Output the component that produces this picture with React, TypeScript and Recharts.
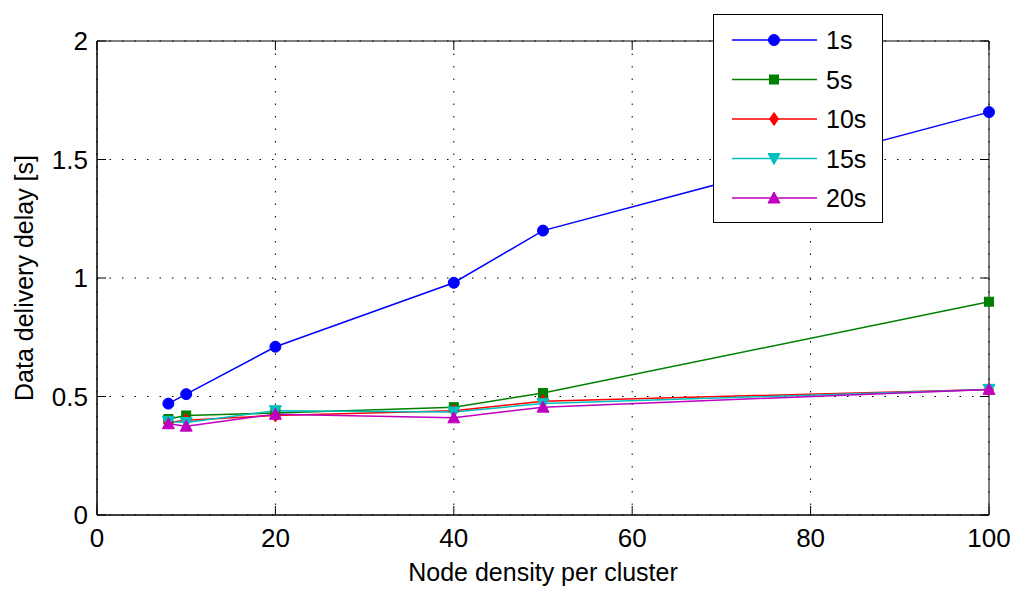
import React from "react";
import {
  LineChart, Line, XAxis, YAxis, CartesianGrid, ReferenceArea,
} from "recharts";

// x values (node density) and the delay for each beacon interval
const nodeDensity = [8, 10, 20, 40, 50, 100];
const delay1s = [0.47, 0.51, 0.71, 0.98, 1.2, 1.7];
const delay5s = [0.405, 0.42, 0.43, 0.455, 0.515, 0.9];
const delay10s = [0.39, 0.4, 0.42, 0.44, 0.48, 0.53];
const delay15s = [0.395, 0.39, 0.44, 0.435, 0.47, 0.53];
const delay20s = [0.385, 0.375, 0.425, 0.41, 0.455, 0.53];

const xTicks = [0, 20, 40, 60, 80, 100];
const yTicks = [0, 0.5, 1, 1.5, 2];

const seriesNames = ["1s", "5s", "10s", "15s", "20s"];
const seriesColors = ["#0000ff", "#008000", "#ff0000", "#00bfbf", "#bf00bf"];
const seriesShapes = ["circle", "square", "diamond", "down", "up"];
const seriesValues = [delay1s, delay5s, delay10s, delay15s, delay20s];

const rows = nodeDensity.map((x, i) => {
  const r: Record<string, number> = { x };
  seriesNames.forEach((n, k) => { r[n] = seriesValues[k][i]; });
  return r;
});

const FONT = "'Liberation Sans', Arial, sans-serif";

function Marker({ shape, cx, cy, color }: { shape: string; cx: number; cy: number; color: string }) {
  if (shape === "circle") return <circle cx={cx} cy={cy} r={5.5} fill={color} stroke={color} />;
  if (shape === "square") return <rect x={cx - 4.5} y={cy - 4.5} width={9} height={9} fill={color} stroke={color} />;
  if (shape === "diamond")
    return <polygon points={`${cx},${cy - 6.5} ${cx + 4.5},${cy} ${cx},${cy + 6.5} ${cx - 4.5},${cy}`} fill={color} stroke={color} />;
  if (shape === "down")
    return <polygon points={`${cx - 6},${cy - 5} ${cx + 6},${cy - 5} ${cx},${cy + 6}`} fill={color} stroke={color} />;
  return <polygon points={`${cx - 6},${cy + 5} ${cx + 6},${cy + 5} ${cx},${cy - 6}`} fill={color} stroke={color} />;
}

function makeDot(shape: string, color: string) {
  return (p: any) => {
    if (p.cx == null || p.cy == null) return <g key={p.index} />;
    return <Marker key={p.index} shape={shape} cx={p.cx} cy={p.cy} color={color} />;
  };
}

const XTick = (p: any) => (
  <g>
    <line x1={p.x} y1={p.y} x2={p.x} y2={p.y - 9} stroke="#000" />
    <line x1={p.x} y1={41} x2={p.x} y2={50} stroke="#000" />
    <text x={p.x} y={p.y + 32} textAnchor="middle" fontSize={26} fontFamily={FONT} fill="#000">
      {p.payload.value}
    </text>
  </g>
);

const YTick = (p: any) => (
  <g>
    <line x1={p.x} y1={p.y} x2={p.x + 9} y2={p.y} stroke="#000" />
    <line x1={989} y1={p.y} x2={980} y2={p.y} stroke="#000" />
    <text x={p.x - 9} y={p.y + 9} textAnchor="end" fontSize={26} fontFamily={FONT} fill="#000">
      {p.payload.value}
    </text>
  </g>
);

export default function App() {
  return (
    <div style={{ position: "absolute", left: 0, top: 0, width: 1024, height: 600, background: "#fff" }}>
      <LineChart width={1024} height={600} data={rows} margin={{ top: 41, right: 35, bottom: 0, left: 0 }}>
        <CartesianGrid stroke="#000" strokeDasharray="1.5 11" />
        <ReferenceArea x1={0} x2={100} y1={0} y2={2} fill="none" stroke="#000" strokeWidth={1} ifOverflow="visible" />
        <XAxis
          dataKey="x" type="number" domain={[0, 100]} ticks={xTicks} height={85}
          axisLine={{ stroke: "#000" }} tickLine={false} tickSize={0} tickMargin={0} tick={<XTick />}
          label={(props: any) => {
            const vb = props.viewBox;
            return (
              <text x={vb.x + vb.width / 2} y={vb.y + 66} textAnchor="middle" fontSize={25} fontFamily={FONT} fill="#000">
                Node density per cluster
              </text>
            );
          }}
        />
        <YAxis
          type="number" domain={[0, 2]} ticks={yTicks} width={97}
          axisLine={{ stroke: "#000" }} tickLine={false} tickSize={0} tickMargin={0} tick={<YTick />}
          label={(props: any) => {
            const vb = props.viewBox;
            const cx = vb.x + 24;
            const cy = vb.y + vb.height / 2;
            return (
              <text x={cx} y={cy} transform={`rotate(-90 ${cx} ${cy})`} textAnchor="middle" dominantBaseline="central"
                fontSize={25} fontFamily={FONT} fill="#000">
                Data delivery delay [s]
              </text>
            );
          }}
        />
        {seriesNames.map((n, k) => (
          <Line
            key={n} dataKey={n} type="linear" stroke={seriesColors[k]} strokeWidth={1.5}
            dot={makeDot(seriesShapes[k], seriesColors[k])} activeDot={false} isAnimationActive={false}
          />
        ))}
      </LineChart>
      <div
        style={{
          position: "absolute", left: 713, top: 14, width: 168, height: 207, background: "#fff",
          border: "1px solid #000", fontFamily: FONT, fontSize: 24,
        }}
      >
        <svg width={168} height={207} style={{ position: "absolute", left: 0, top: 0 }}>
          {seriesNames.map((n, k) => {
            const y = 25 + k * 39.5;
            return (
              <g key={n}>
                <line x1={18} x2={103} y1={y} y2={y} stroke={seriesColors[k]} strokeWidth={1.5} />
                <Marker shape={seriesShapes[k]} cx={60} cy={y} color={seriesColors[k]} />
                <text x={112} y={y + 9} fontSize={25} fontFamily={FONT} fill="#000">{n}</text>
              </g>
            );
          })}
        </svg>
      </div>
    </div>
  );
}
